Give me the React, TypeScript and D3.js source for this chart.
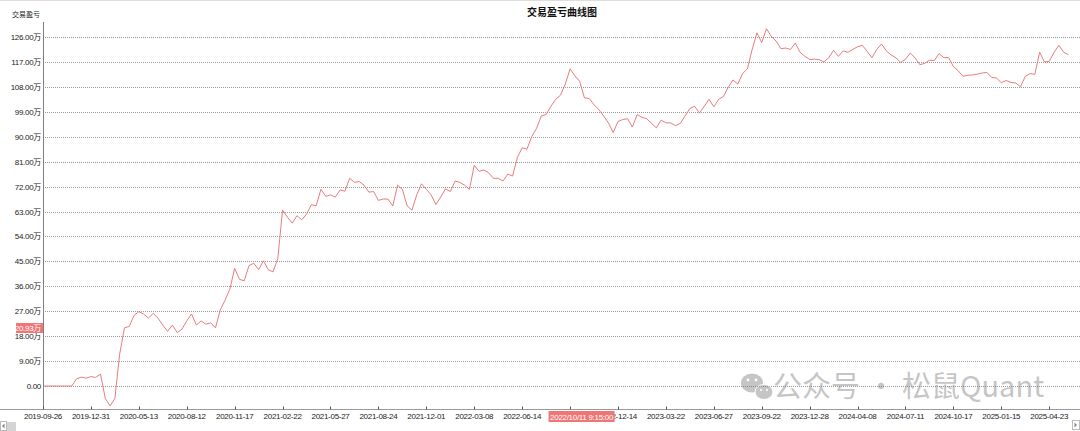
import React from 'react'
import * as d3 from 'd3'

// 交易盈亏 (万), one value per bar
const pnl = [
  0, 0, 0, 0, 0, 0, 0, 2.6, 3.2, 2.8,
  3.4, 3.1, 4.3, -4.5, -7.2, -4.5, 11.5, 21, 21.5, 25.5,
  26.8, 26, 24.5, 26.2, 24.5, 22, 19.7, 22, 19.3, 20.5,
  23.5, 26, 22, 23.5, 22.3, 22.8, 21, 27.5, 31, 35,
  42.5, 38.5, 38, 43.5, 44.3, 42, 45.2, 42, 41.2, 46,
  63.5, 61, 58.8, 61.5, 60, 62, 65.5, 65, 71, 68.5,
  69, 68.2, 70.8, 70.3, 75, 73.5, 73.8, 72.5, 70, 70.2,
  67, 67.5, 67.5, 65, 72.5, 71, 65, 63.5, 69, 73,
  71, 69, 65.5, 68.2, 71.2, 70.2, 74, 73.5, 72.5, 71,
  79.7, 77.5, 78, 77, 75, 75, 74, 76.5, 75.8, 82.5,
  86, 85.5, 90, 93, 97.5, 98, 101, 103.5, 105, 109,
  114.5, 112, 110, 104, 103.8, 101.5, 99.8, 97.5, 95, 91.5,
  95.5, 96.2, 96.5, 93.5, 98, 97, 96.5, 94.8, 93.2, 96,
  95, 95, 94, 94.8, 97.5, 100.2, 101, 98.5, 101, 103.5,
  100.8, 103.5, 104.5, 107.8, 110.5, 109, 112.8, 114.5, 121.5, 127.5,
  124, 129, 126.2, 124.5, 121.8, 122, 121.5, 123.8, 120.5, 119,
  117.9, 118, 117.8, 117, 118.6, 121.2, 119, 121, 120.5, 121.5,
  122.5, 123, 120.8, 118.5, 121.5, 123.5, 121, 119.5, 118.5, 116.8,
  118, 120.2, 118.5, 116, 116.5, 117.6, 117.5, 120, 118.5, 118.6,
  115.3, 113.8, 111.8, 112.2, 112.3, 112.6, 113, 113.2, 111.4, 111.2,
  109.5, 110.3, 109.6, 109.4, 108, 111.8, 112.8, 112.5, 120.5, 117,
  117.2, 120.4, 123, 120.5, 119.6,
]

// the one under the cursor box is hidden in the original
const dateTicks = [
  '2019-09-26', '2019-12-31', '2020-05-13', '2020-08-12', '2020-11-17', '2021-02-22',
  '2021-05-27', '2021-08-24', '2021-12-01', '2022-03-08', '2022-06-14', '',
  '2022-12-14', '2023-03-22', '2023-06-27', '2023-09-22', '2023-12-28', '2024-04-08',
  '2024-07-11', '2024-10-17', '2025-01-15', '2025-04-23',
]
const tickEvery = 10

const yTicks = [0, 9, 18, 27, 36, 45, 54, 63, 72, 81, 90, 99, 108, 117, 126]

const cursorValue = 20.93
const cursorIndex = 112.4
const cursorDate = '2022/10/11 9:15:00'

const W = 1080
const H = 431
const FONT = "'Liberation Sans', 'Noto Sans CJK SC', sans-serif"

export default function App() {
  const x = d3.scaleLinear().domain([0, pnl.length - 1]).range([43, 1068.4])
  const y = d3.scaleLinear().domain([0, 126]).range([386, 37])
  const line = d3.line<number>().x((_, i) => x(i)).y(d => y(d))
  const fmt = (v: number) => (v === 0 ? '0.00' : v.toFixed(2) + '万')
  const axisY = 409.5

  return (
    <svg width={W} height={H} style={{ position: 'absolute', left: 0, top: 0, background: '#fff' }} fontFamily={FONT}>
      <line x1={0} x2={W} y1={0.5} y2={0.5} stroke="#ddd" />
      <text x={562} y={16} textAnchor="middle" fontSize={10} fontWeight="bold" fill="#111">交易盈亏曲线图</text>
      <text x={26} y={17} textAnchor="middle" fontSize={7} fill="#222">交易盈亏</text>

      {/* grid + y labels */}
      {yTicks.map(t => (
        <g key={t}>
          <line x1={43} x2={W} y1={Math.round(y(t)) + 0.5} y2={Math.round(y(t)) + 0.5} stroke="#9a9a9a" strokeDasharray="1,1" />
          <text x={41} y={y(t) + 3} textAnchor="end" fontSize={8} letterSpacing={-0.3} fill="#222">{fmt(t)}</text>
        </g>
      ))}

      {/* watermark */}
      <g opacity={0.42} fill="#777">
        <ellipse cx={752} cy={383} rx={11} ry={9.5} />
        <ellipse cx={764} cy={392} rx={9} ry={7.5} stroke="#fff" strokeWidth={1} />
        <circle cx={748} cy={380} r={1.4} fill="#fff" />
        <circle cx={756} cy={380} r={1.4} fill="#fff" />
        <circle cx={761} cy={390} r={1.1} fill="#fff" />
        <circle cx={767} cy={390} r={1.1} fill="#fff" />
        <text x={773} y={397} fontSize={29} fontFamily="'Noto Sans CJK SC', sans-serif">公众号 · 松鼠Quant</text>
      </g>

      {/* P&L curve */}
      <path d={line(pnl) || ''} fill="none" stroke="#e46e6e" strokeWidth={0.9} />

      {/* axes */}
      <line x1={43.5} x2={43.5} y1={22} y2={axisY} stroke="#808080" />
      <line x1={0} x2={W} y1={axisY} y2={axisY} stroke="#9a9a9a" />
      {dateTicks.map((d, i) => (
        <g key={i}>
          <line x1={Math.round(x(i * tickEvery)) + 0.5} x2={Math.round(x(i * tickEvery)) + 0.5} y1={axisY - 3} y2={axisY} stroke="#555" />
          {d && <text x={x(i * tickEvery)} y={419} textAnchor="middle" fontSize={8} letterSpacing={-0.3} fill="#222">{d}</text>}
        </g>
      ))}

      {/* cursor labels */}
      <rect x={16} y={y(cursorValue) - 5} width={27} height={10} fill="#f07575" />
      <text x={41} y={y(cursorValue) + 3} textAnchor="end" fontSize={8} letterSpacing={-0.3} fill="#fff">{fmt(cursorValue)}</text>
      <rect x={x(cursorIndex) - 33} y={411} width={66} height={11} fill="#f07575" />
      <text x={x(cursorIndex)} y={419.5} textAnchor="middle" fontSize={8} letterSpacing={-0.3} fill="#fff">{cursorDate}</text>

      {/* scrollbar ends */}
      <rect x={0.5} y={421.5} width={6} height={9} fill="#fff" stroke="#bbb" />
      <path d="M4.5,423.5 L2,426 L4.5,428.5 Z" fill="#888" />
      <rect x={7} y={422} width={9} height={9} fill="#d4d4d4" />
      <rect x={1072.5} y={420.5} width={7} height={9} fill="#fff" stroke="#bbb" />
      <path d="M1074.5,422.5 L1077,425 L1074.5,427.5 Z" fill="#888" />
    </svg>
  )
}
